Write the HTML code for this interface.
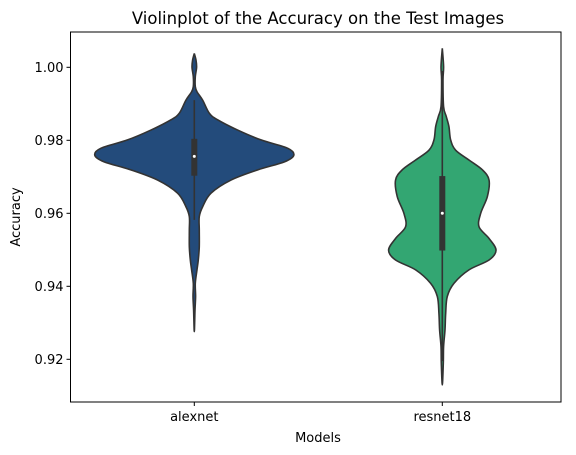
<!DOCTYPE html>
<html><head><meta charset="utf-8"><style>
html,body{margin:0;padding:0;background:#fff;}
svg{display:block;font-family:"DejaVu Sans","Liberation Sans",sans-serif;}
</style></head><body>
<svg id="chart" width="576" height="455" viewBox="0 0 576 455">
<text x="318" y="24" text-anchor="middle" font-size="16.5" fill="#000">Violinplot of the Accuracy on the Test Images</text>
<g id="plot"></g>
<text x="318" y="442" text-anchor="middle" font-size="13" fill="#000">Models</text>
<text x="20" y="217" text-anchor="middle" font-size="13" fill="#000" transform="rotate(-90 20 217)">Accuracy</text>
</svg>
<script>
const categories = ["alexnet", "resnet18"];
const colors = ["#234b7b", "#33a672"];
const yTicks = [0.92, 0.94, 0.96, 0.98, 1.00];
const yTickLabels = ["0.92", "0.94", "0.96", "0.98", "1.00"];
const alexV = [1.0038,1.0020,1.0000,0.9974,0.9947,0.9933,0.9910,0.9874,0.9856,0.9828,0.9801,0.9778,0.9759,0.9741,0.9719,0.9691,0.9655,0.9618,0.9591,0.9554,0.9508,0.9472,0.9445,0.9408,0.9372,0.9335,0.9276];
const alexD = [0,0.017,0.023,0.010,0.010,0.027,0.084,0.151,0.235,0.436,0.671,0.940,1.0,0.906,0.638,0.369,0.168,0.084,0.050,0.050,0.050,0.040,0.027,0.010,0.013,0.007,0];
const resV = [1.0052,1.0002,0.9965,0.9892,0.9865,0.9837,0.9801,0.9773,0.9746,0.9719,0.9691,0.9646,0.9600,0.9563,0.9531,0.9499,0.9472,0.9445,0.9408,0.9372,0.9326,0.9280,0.9235,0.9189,0.9130];
const resD = [0,0.013,0.007,0.013,0.040,0.067,0.084,0.134,0.268,0.403,0.470,0.453,0.386,0.369,0.470,0.540,0.470,0.268,0.117,0.050,0.034,0.027,0.013,0.010,0];
const alexBox = [0.9582, 0.9703, 0.9756, 0.9804, 0.9910];
const resBox = [0.9195, 0.9498, 0.9600, 0.9702, 0.9990];

const NS = "http://www.w3.org/2000/svg";
const L = 70.5, R = 561, T = 32, B = 402;
const yScale = v => 67.3 + (1 - v) / 0.02 * 73;
const xScale = i => 194.3 + i * 248;
const wScale = d => d * 99.5;
const plot = document.getElementById("plot");
function mk(tag, attrs) { const e = document.createElementNS(NS, tag); for (const k in attrs) e.setAttribute(k, attrs[k]); plot.appendChild(e); return e; }

function smooth(pts) {
  let d = "M" + pts[0][0] + "," + pts[0][1];
  for (let i = 0; i < pts.length - 1; i++) {
    const p0 = pts[Math.max(i - 1, 0)], p1 = pts[i], p2 = pts[i + 1], p3 = pts[Math.min(i + 2, pts.length - 1)];
    const c1 = [p1[0] + (p2[0] - p0[0]) / 6, p1[1] + (p2[1] - p0[1]) / 6];
    const c2 = [p2[0] - (p3[0] - p1[0]) / 6, p2[1] - (p3[1] - p1[1]) / 6];
    d += "C" + c1[0] + "," + c1[1] + " " + c2[0] + "," + c2[1] + " " + p2[0] + "," + p2[1];
  }
  return d;
}

yTicks.forEach((t, i) => {
  const y = yScale(t);
  const tk = mk("line", {x1: L - 4, x2: L, y1: y, y2: y, stroke: "#000", "stroke-width": 1});
  
  
  const tx = mk("text", {x: L - 7, y: y + 4.5, "text-anchor": "end", "font-size": 13, fill: "#000"});
  tx.textContent = yTickLabels[i];
  
  
});

const allV = [alexV, resV], allD = [alexD, resD], boxes = [alexBox, resBox];
categories.forEach((c, i) => {
  const cx = xScale(i), V = allV[i], D = allD[i];
  const right = V.map((v, k) => [cx + wScale(D[k]), yScale(v)]);
  const left = V.map((v, k) => [cx - wScale(D[k]), yScale(v)]).reverse();
  const pts = right.concat(left.slice(1));
  const p = mk("path", {d: smooth(pts) + "Z", fill: colors[i], stroke: "#333", "stroke-width": 1.6});
  
  
  const b = boxes[i];
  const wh = mk("line", {x1: cx, x2: cx, y1: yScale(b[0]), y2: yScale(b[4]), stroke: "#333", "stroke-width": 1.6});
  
  
  const bx = mk("rect", {x: cx - 3, y: yScale(b[3]), width: 6, height: yScale(b[1]) - yScale(b[3]), fill: "#333"});
  
  
  const md = mk("circle", {cx: cx, cy: yScale(b[2]), r: 1.5, fill: "#fff"});
  
  
  const tk = mk("line", {x1: cx, x2: cx, y1: B, y2: B + 4, stroke: "#000", "stroke-width": 1});
  
  
  const tx = mk("text", {x: cx, y: B + 19, "text-anchor": "middle", "font-size": 13, fill: "#000"});
  tx.textContent = c;
  
  
});

const frame = mk("rect", {x: L, y: T, width: R - L, height: B - T, fill: "none", stroke: "#000", "stroke-width": 1});


</script>
</body></html>
